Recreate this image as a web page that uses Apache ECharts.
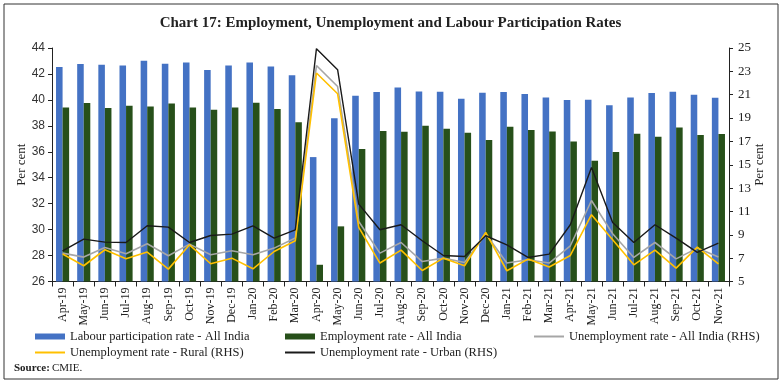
<!DOCTYPE html>
<html>
<head>
<meta charset="utf-8">
<script src="https://cdn.jsdelivr.net/npm/echarts@6/dist/echarts.min.js"></script>
<style>
html,body{margin:0;padding:0;background:#fff;}
#chart{width:781px;height:384px;}
</style>
</head>
<body>
<div id="chart"></div>
<script>
const categories = ['Apr-19','May-19','Jun-19','Jul-19','Aug-19','Sep-19','Oct-19','Nov-19','Dec-19','Jan-20','Feb-20','Mar-20','Apr-20','May-20','Jun-20','Jul-20','Aug-20','Sep-20','Oct-20','Nov-20','Dec-20','Jan-21','Feb-21','Mar-21','Apr-21','May-21','Jun-21','Jul-21','Aug-21','Sep-21','Oct-21','Nov-21'];
const labourRate = [42.53,42.76,42.71,42.66,43.02,42.79,42.89,42.30,42.66,42.89,42.58,41.89,35.59,38.58,40.32,40.60,40.96,40.65,40.63,40.09,40.55,40.60,40.45,40.19,39.99,40.01,39.58,40.19,40.53,40.63,40.40,40.17];
const employmentRate = [39.42,39.76,39.37,39.55,39.50,39.73,39.42,39.24,39.42,39.78,39.29,38.27,27.29,30.25,36.21,37.60,37.55,38.00,37.78,37.47,36.90,37.93,37.68,37.57,36.80,35.31,35.98,37.39,37.16,37.88,37.29,37.37];
const unempAllIndia = [7.43,7.09,7.91,7.37,8.23,7.20,8.20,7.29,7.63,7.29,7.86,8.72,23.50,21.70,10.14,7.43,8.34,6.71,7.00,6.63,9.09,6.58,6.86,6.58,8.06,11.94,9.09,7.06,8.34,6.94,7.86,7.09];
const unempRural = [7.35,6.35,7.72,6.94,7.52,6.06,8.14,6.52,7.00,6.09,7.57,8.49,22.86,21.08,9.63,6.58,7.69,5.94,7.00,6.35,9.20,5.92,6.92,6.24,7.23,10.72,8.57,6.43,7.69,6.15,7.95,6.52];
const unempUrban = [7.63,8.63,8.37,8.34,9.77,9.66,8.34,8.94,9.06,9.77,8.72,9.43,24.94,23.14,11.63,9.43,9.86,8.49,7.23,7.14,8.92,8.14,7.06,7.34,9.86,14.77,10.06,8.34,9.86,8.72,7.49,8.29];
const leftTicks = {min:26, max:44, interval:2};
const rightTicks = {min:5, max:25, interval:2};

const names = ['Labour participation rate - All India','Employment rate - All India','Unemployment rate - All India (RHS)','Unemployment rate - Rural (RHS)','Unemployment rate - Urban (RHS)'];
const colors = ['#4472C4','#27501A','#A6A6A6','#FFC000','#1A1A1A'];

const serif = 'Liberation Serif';
const legendText = {fontFamily: serif, fontSize: 12.5, color: '#222'};
function lg(i, left, top, isLine){
  return {data:[names[i]], left:left, top:top, itemWidth:30, itemHeight:isLine?2:6, icon:'rect', itemGap:3, padding:0, textStyle:legendText, selectedMode:false};
}

const chart = echarts.init(document.getElementById('chart'), null, {renderer:'canvas'});
chart.setOption({
  animation:false,
  color: colors,
  title:{text:'Chart 17: Employment, Unemployment and Labour Participation Rates', left:'center', top:11,
    textStyle:{fontFamily:serif, fontWeight:'bold', fontSize:15, color:'#222'}},
  graphic:[
    {type:'rect', shape:{x:4,y:4,width:774,height:375}, style:{fill:'none', stroke:'#333', lineWidth:1}, silent:true},
    {type:'text', left:14, top:363, style:{text:'Source:', font:'bold 11px "Liberation Serif"', fill:'#222'}},
    {type:'text', left:52, top:363, style:{text:'CMIE.', font:'11px "Liberation Serif"', fill:'#222'}}
  ],
  legend:[
    lg(0, 35, 330, false),
    lg(1, 285, 330, false),
    lg(2, 534, 330, true),
    lg(3, 35, 346, true),
    lg(4, 285, 346, true)
  ],
  grid:{left:52, right:52, top:48, height:233.5},
  xAxis:{type:'category', data:categories, boundaryGap:true,
    axisLine:{lineStyle:{color:'#222', width:1}},
    axisTick:{show:true, length:5, lineStyle:{color:'#222'}},
    axisLabel:{rotate:90, fontFamily:serif, fontSize:12, color:'#222', margin:6, interval:0}},
  yAxis:[
    {type:'value', min:leftTicks.min, max:leftTicks.max, interval:leftTicks.interval, position:'left',
      name:'Per cent', nameLocation:'middle', nameRotate:90, nameGap:24, nameMoveOverlap:false,
      nameTextStyle:{fontFamily:serif, fontSize:13, color:'#222'},
      axisLine:{show:true, lineStyle:{color:'#222'}},
      axisTick:{show:true, length:4, lineStyle:{color:'#222'}},
      splitLine:{show:false},
      axisLabel:{fontFamily:'Liberation Sans', fontSize:12, color:'#333', margin:7}},
    {type:'value', min:rightTicks.min, max:rightTicks.max, interval:rightTicks.interval, position:'right',
      name:'Per cent', nameLocation:'middle', nameRotate:90, nameGap:24, nameMoveOverlap:false,
      nameTextStyle:{fontFamily:serif, fontSize:13, color:'#222'},
      axisLine:{show:true, lineStyle:{color:'#222'}},
      axisTick:{show:true, length:4, lineStyle:{color:'#222'}},
      splitLine:{show:false},
      axisLabel:{fontFamily:serif, fontSize:13, color:'#222', margin:9}}
  ],
  series:[
    {name:names[0], type:'bar', data:labourRate, barWidth:'31%', barGap:'0%', itemStyle:{color:colors[0]}},
    {name:names[1], type:'bar', data:employmentRate, barWidth:'31%', barGap:'0%', itemStyle:{color:colors[1]}},
    {name:names[2], type:'line', yAxisIndex:1, data:unempAllIndia, symbol:'none', lineStyle:{width:1.6, color:colors[2]}, itemStyle:{color:colors[2]}},
    {name:names[3], type:'line', yAxisIndex:1, data:unempRural, symbol:'none', lineStyle:{width:1.6, color:colors[3]}, itemStyle:{color:colors[3]}},
    {name:names[4], type:'line', yAxisIndex:1, data:unempUrban, symbol:'none', lineStyle:{width:1.4, color:colors[4]}, itemStyle:{color:colors[4]}}
  ]
});
</script>
</body>
</html>
